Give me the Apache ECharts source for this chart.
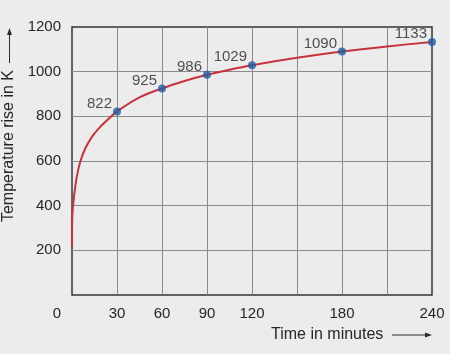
<!DOCTYPE html>
<html>
<head>
<meta charset="utf-8">
<script src="https://cdn.jsdelivr.net/npm/echarts@6/dist/echarts.min.js"></script>
<style>
  html, body { margin: 0; padding: 0; background: #ececec; }
  #chart { width: 450px; height: 354px; }
</style>
</head>
<body>
<div id="chart"></div>
<script>
// curve (minutes, K)
var curveTime = [0, 0.2, 1.6, 3.2, 5.5, 8.9, 13.4, 17.9, 24.8, 30, 45, 60, 75, 90, 105, 120, 150, 180, 210, 240];
var curveTemp = [215, 350, 455, 530, 597, 657, 709, 746, 791, 822, 885, 925, 958, 986, 1009, 1029, 1062, 1090, 1113, 1133];

// labelled points
var markTime = [30, 60, 90, 120, 180, 240];
var markTemp = [822, 925, 986, 1029, 1090, 1133];

var xTickLabels = [0, 30, 60, 90, 120, 180, 240];

var myChart = echarts.init(document.getElementById("chart"));

var font = "Liberation Sans";
var textCol = "#262626";

var option = {
  backgroundColor: "#ececec",
  animation: false,
  grid: {
    left: 72, right: 18, top: 27, bottom: 59,
    show: true,
    borderColor: "#333",
    borderWidth: 1.5,
    backgroundColor: "transparent"
  },
  xAxis: {
    type: "value",
    min: 0, max: 240, interval: 30,
    axisLine: { show: false },
    axisTick: { show: false },
    splitLine: { show: true, showMinLine: false, showMaxLine: false, lineStyle: { color: "#8a8a8a", width: 1 } },
    axisLabel: {
      margin: 11,
      color: textCol, fontSize: 15, fontFamily: font,
      formatter: function (v) {
        if (xTickLabels.indexOf(v) < 0) return "";
        if (v === 0) return "{z|0}";
        return String(v);
      },
      rich: { z: { padding: [0, 30, 0, 0], fontSize: 15, fontFamily: font, color: textCol } }
    }
  },
  yAxis: {
    type: "value",
    min: 0, max: 1200, interval: 200,
    axisLine: { show: false },
    axisTick: { show: false },
    splitLine: { show: true, showMinLine: false, showMaxLine: false, lineStyle: { color: "#8a8a8a", width: 1 } },
    axisLabel: {
      margin: 11,
      color: textCol, fontSize: 15, fontFamily: font,
      formatter: function (v) { return v === 0 ? "" : String(v); }
    }
  },
  series: [
    {
      type: "line",
      data: curveTime.map(function (t, i) { return [t, curveTemp[i]]; }),
      smooth: 0.35,
      showSymbol: false,
      lineStyle: { color: "#c8323c", width: 2 },
      z: 3
    },
    {
      type: "scatter",
      data: markTime.map(function (t, i) { return [t, markTemp[i]]; }),
      symbolSize: 8,
      itemStyle: { color: "#1f5ca3" },
      label: {
        show: true,
        position: "left",
        distance: 1,
        offset: [0, -8],
        color: textCol, fontSize: 15, fontFamily: font,
        formatter: function (p) { return p.value[1]; }
      },
      z: 4
    }
  ],
  graphic: [
    {
      type: "text",
      left: 271, top: 327,
      style: { text: "Time in minutes", fill: textCol, font: "16px " + font }
    },
    { type: "line", shape: { x1: 392, y1: 335, x2: 427, y2: 335 }, style: { stroke: "#2b2b2b", lineWidth: 1 } },
    { type: "polygon", shape: { points: [[425, 332.5], [432, 335], [425, 337.5]] }, style: { fill: "#2b2b2b" } },
    {
      type: "text",
      x: 9, y: 146,
      rotation: Math.PI / 2,
      style: { text: "Temperature rise in K", fill: textCol, font: "16px " + font, align: "center", verticalAlign: "middle" }
    },
    { type: "line", shape: { x1: 9.5, y1: 63, x2: 9.5, y2: 33 }, style: { stroke: "#2b2b2b", lineWidth: 1 } },
    { type: "polygon", shape: { points: [[7, 35], [9.5, 28], [12, 35]] }, style: { fill: "#2b2b2b" } }
  ]
};

myChart.setOption(option);
</script>
</body>
</html>
